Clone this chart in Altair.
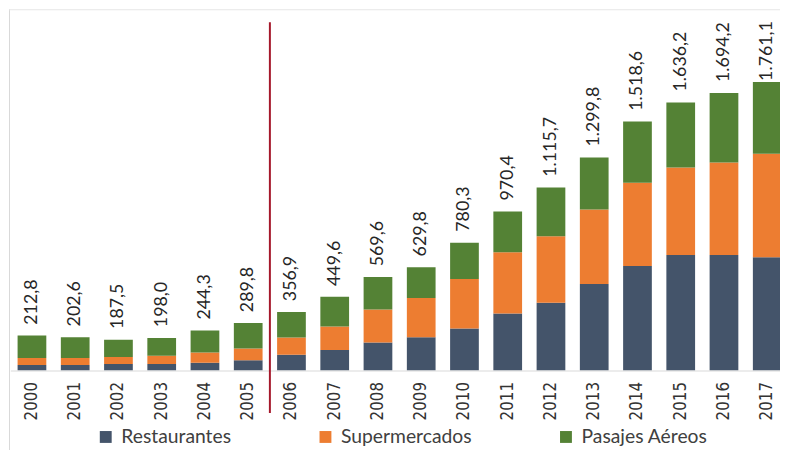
import altair as alt
import pandas as pd

years = ["2000", "2001", "2002", "2003", "2004", "2005", "2006", "2007", "2008",
         "2009", "2010", "2011", "2012", "2013", "2014", "2015", "2016", "2017"]
restaurantes = [34, 34, 40, 40, 48, 63, 97, 125, 171, 203, 256, 348, 413, 528, 638, 705, 705, 691]
supermercados = [42, 42, 42, 50, 62, 72, 105, 143, 201, 240, 302, 373, 406, 455, 507, 533, 564, 632]
pasajes = [137, 127, 106, 108, 134, 155, 155, 182, 198, 187, 222, 249, 297, 317, 374, 398, 425, 438]
totals = [212.8, 202.6, 187.5, 198.0, 244.3, 289.8, 356.9, 449.6, 569.6, 629.8,
          780.3, 970.4, 1115.7, 1299.8, 1518.6, 1636.2, 1694.2, 1761.1]
series = ["Restaurantes", "Supermercados", "Pasajes Aéreos"]
colors = ["#44546A", "#ED7D31", "#548235"]


def fmt(v):
    s = f"{v:,.1f}"
    return s.replace(",", "X").replace(".", ",").replace("X", ".")


rows = []
for i, y in enumerate(years):
    for k, (name, vals) in enumerate(zip(series, [restaurantes, supermercados, pasajes])):
        rows.append({"year": y, "serie": name, "value": vals[i], "order": k})
df = pd.DataFrame(rows)
tot = pd.DataFrame({"year": years, "total": totals, "label": [fmt(v) for v in totals]})

W, H = 779, 364
STEP = 43.7
xscale = alt.Scale(domain=years, range=[1.35, 1.35 + 18 * STEP], paddingInner=0.336, paddingOuter=0.168)
yscale = alt.Scale(domain=[0, 2198], nice=False, zero=True)

bars = alt.Chart(df).mark_bar(clip=True).encode(
    x=alt.X("year:N", scale=xscale, title=None,
            axis=alt.Axis(labelAngle=270, labelFont="Liberation Sans Narrow, DejaVu Sans Condensed, sans-serif",
                          labelFontSize=17, labelColor="#333333", labelPadding=11, ticks=False,
                          domainColor="#d9d9d9", domainWidth=1, grid=False)),
    y=alt.Y("value:Q", stack="zero", scale=yscale, axis=None),
    color=alt.Color("serie:N", scale=alt.Scale(domain=series, range=colors),
                    legend=alt.Legend(title=None, orient="none", legendX=88, legendY=421,
                                      direction="horizontal", symbolType="square", symbolSize=144,
                                      symbolStrokeWidth=0, labelFont="Lato", labelFontSize=19.5,
                                      labelColor="#404040", columnPadding=85, labelOffset=6,
                                      padding=0, rowPadding=0)),
    order=alt.Order("order:Q", sort="ascending"),
)

labels = alt.Chart(tot).transform_filter(alt.datum.year != "2017").mark_text(
    angle=270, align="left", baseline="middle", dx=11, font="Lato", fontSize=18, color="#262626"
).encode(
    x=alt.X("year:N", scale=xscale),
    y=alt.Y("total:Q", scale=yscale),
    text="label:N",
)

labels_last = alt.Chart(tot).transform_filter(alt.datum.year == "2017").mark_text(
    angle=270, align="left", baseline="middle", dx=1, font="Lato", fontSize=18, color="#262626"
).encode(
    x=alt.X("year:N", scale=xscale),
    y=alt.Y("total:Q", scale=yscale),
    text="label:N",
)

one = pd.DataFrame({"a": [0]})
red = alt.Chart(one).mark_rule(color="#A5182B", strokeWidth=2).encode(
    x=alt.value(263.6), y=alt.value(12), y2=alt.value(407)
)
left_border = alt.Chart(one).mark_rule(color="#d9d9d9", strokeWidth=1).encode(
    x=alt.value(0.5), y=alt.value(-1), y2=alt.value(450)
)
top_border = alt.Chart(one).mark_rule(color="#e6e6e6", strokeWidth=1).encode(
    x=alt.value(0), x2=alt.value(W), y=alt.value(-0.5)
)

chart = alt.layer(left_border, top_border, bars, labels, labels_last, red).properties(
    width=W, height=H,
    autosize=alt.AutoSizeParams(type="none"),
    padding={"left": 1, "top": 0, "right": 0, "bottom": 78},
).configure_view(strokeWidth=0)

chart.save("out.html", embed_options={"renderer": "svg", "actions": False})
